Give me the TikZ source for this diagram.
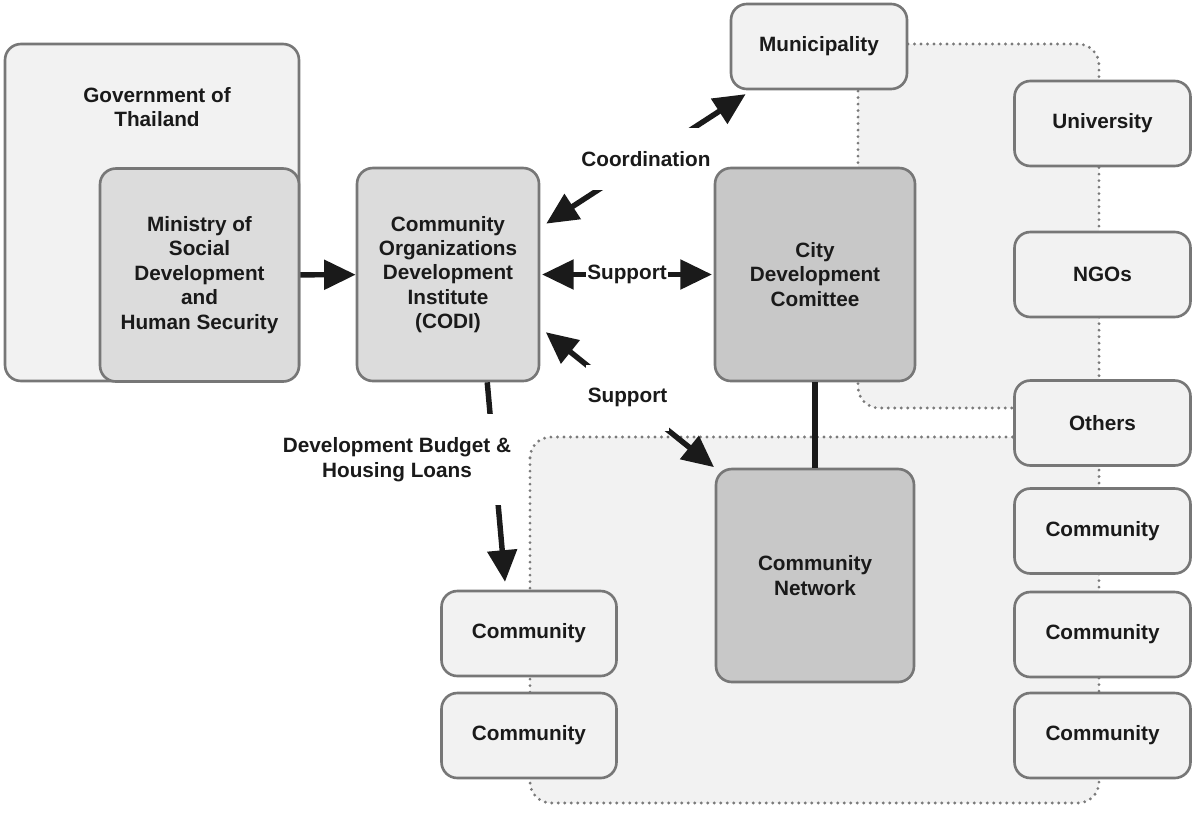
\documentclass[tikz,border=0pt]{standalone}
\usepackage{fontspec}
\setmainfont{Liberation Sans}
\usetikzlibrary{arrows.meta}

\definecolor{boxlight}{HTML}{F2F2F2}
\definecolor{boxmid}{HTML}{DCDCDC}
\definecolor{boxdark}{HTML}{C8C8C8}
\definecolor{boxedge}{HTML}{777777}
\definecolor{dotgray}{HTML}{7A7A7A}
\definecolor{inkblack}{HTML}{1A1A1A}

\begin{document}
\begin{tikzpicture}[x=0.02cm, y=-0.02cm,
	txtfont/.style={font=\fontsize{11.8}{13.9}\selectfont\bfseries, text=inkblack},
	box/.style={draw=boxedge, line width=1.5pt, rounded corners=9pt, align=center, inner sep=0pt, txtfont},
	smallbox/.style={box, fill=boxlight, minimum width=3.52cm, minimum height=1.7cm},
	bigbox/.style={box, minimum width=3.96cm, minimum height=4.26cm},
	region/.style={fill=boxlight, draw=dotgray, line width=1.8pt, dash pattern=on 0pt off 3.7pt, line cap=round, rounded corners=12pt},
	arr/.style={draw=inkblack, line width=3.1pt},
	lbl/.style={fill=white, inner xsep=1pt, inner ysep=13.5pt, align=center, txtfont},
	>={Triangle[length=18pt, width=16.5pt]}]
	        \useasboundingbox (0, 0) rectangle (1192, 812);
	        
	        \draw [region] (858, 44) rectangle (1099, 408);
	        \draw [region] (530, 437) rectangle (1099, 803);
	        
	        \node [box, fill=boxlight, minimum width=5.88cm, minimum height=6.74cm] at (152, 212.5) (gov) {};
	        \node [txtfont, align=center] at (157, 107) (govlbl) {Government of\\Thailand};
	        \node [bigbox, fill=boxmid, minimum width=3.98cm] at (199.5, 275) (mins) {Ministry of\\Social\\Development\\and\\Human Security};
	        \node [bigbox, fill=boxmid, minimum width=3.64cm] at (448, 274.5) (codi) {Community\\Organizations\\Development\\Institute\\(CODI)};
	        \node [smallbox] at (819, 46.5) (muni) {Municipality};
	        \node [bigbox, fill=boxdark, minimum width=4cm] at (815, 274.5) (city) {City\\Development\\Comittee};
	        \node [bigbox, fill=boxdark] at (815, 575.5) (commnet) {Community\\Network};
	        \node [smallbox] at (1102.5, 123.5) (univ) {University};
	        \node [smallbox] at (1102.5, 274.5) (ngos) {NGOs};
	        \node [smallbox] at (1102.5, 423) (others) {Others};
	        \node [smallbox] at (1102.5, 531) (commR1) {Community};
	        \node [smallbox] at (1102.5, 634.5) (commR2) {Community};
	        \node [smallbox] at (1102.5, 735.5) (commR3) {Community};
	        \node [smallbox, minimum width=3.5cm] at (529, 633.5) (commL1) {Community};
	        \node [smallbox, minimum width=3.5cm] at (529, 735.5) (commL2) {Community};
	        
	        \draw [arr, ->] (mins) -- (codi);
	        \draw [arr, <->, shorten <=1pt, shorten >=1pt] (codi) -- node [lbl] {Support} (city);
	        \draw [arr, <->, shorten <=4pt, shorten >=4pt] (codi.27) -- node [lbl] {Coordination} (muni.213);
	        \draw [arr, <->, shorten <=4pt, shorten >=0.5pt] (codi.330) -- node [lbl] {Support} (commnet.north west);
	        \draw [arr, ->, shorten >=4.5pt] (codi.290) -- (commL1.118);
	        \draw [arr] (city) -- (commnet);
	        \node [lbl] at (397, 459.5) (budget) {Development Budget \&\\Housing Loans};
        \end{tikzpicture}
\end{document}
